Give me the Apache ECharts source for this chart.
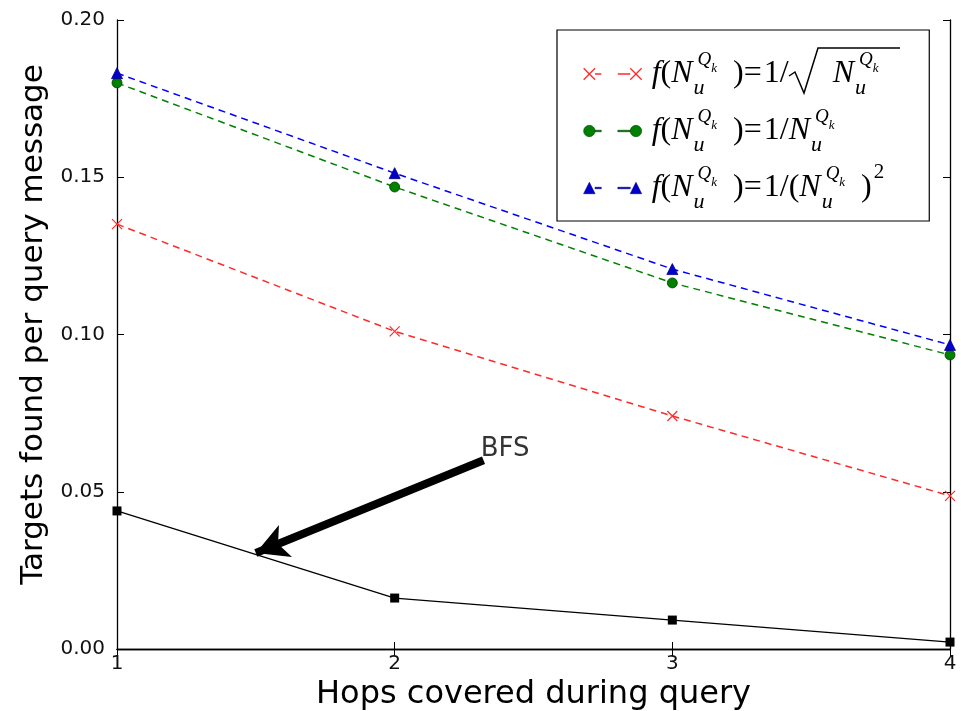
<!DOCTYPE html>
<html>
<head>
<meta charset="utf-8">
<script src="https://cdn.jsdelivr.net/npm/echarts@6/dist/echarts.min.js"></script>
<style>html,body{margin:0;padding:0;background:#fff;}#c{width:961px;height:711px;}</style>
</head>
<body>
<div id="c"></div>
<script>
const hops = [1, 2, 3, 4];
const sqrtVals = [0.1351, 0.1010, 0.0741, 0.0487];
const invVals = [0.1800, 0.1469, 0.1164, 0.0935];
const invSqVals = [0.1831, 0.1513, 0.1208, 0.0967];
const bfsVals = [0.0439, 0.0162, 0.0092, 0.0022];
const seriesNames = ['sqrt', 'inv', 'invsq'];
const legendTexts = {
  sqrt: '{f|f}{t|(}{N|N}{sub|u}{sup|Q}{k|k}{t|  )}{eq|=}{t|1/}{rad| }{N|N}{sub|u}{sup|Q}{k|k}',
  inv: '{f|f}{t|(}{N|N}{sub|u}{sup|Q}{k|k}{t|  )}{eq|=}{t|1/}{N|N}{sub|u}{sup|Q}{k|k}',
  invsq: '{f|f}{t|(}{N|N}{sub|u}{sup|Q}{k|k}{t|  )}{eq|=}{t|1/(}{N|N}{sub|u}{sup|Q}{k|k}{t|  )}{two|2}'
};
const bfsLabel = 'BFS';
const bfsLabelPos = [2.31, 0.0636];
const arrowFrom = [2.32, 0.0600];
const arrowTo = [1.50, 0.0305];

const chart = echarts.init(document.getElementById('c'));
const pair = (vals) => hops.map((h, i) => [h, vals[i]]);
const axisLine = { show: true, lineStyle: { color: '#000', width: 1.3 } };
const tick = { show: true, inside: true, length: 7, lineStyle: { color: '#000', width: 1 } };
const mathFont = 'Liberation Serif';
const LH = 56;
const rich = {
  f: { fontFamily: mathFont, fontStyle: 'italic', fontSize: 32, lineHeight: LH, verticalAlign: 'middle', color: '#000' },
  t: { fontFamily: mathFont, fontSize: 32, lineHeight: LH, verticalAlign: 'middle', color: '#000' },
  eq: { fontFamily: mathFont, fontSize: 32, lineHeight: LH, verticalAlign: 'middle', padding: [0, 2, 0, 0], color: '#000' },
  rad: { fontFamily: mathFont, fontSize: 32, lineHeight: LH, verticalAlign: 'middle', width: 44, color: '#000' },
  N: { fontFamily: mathFont, fontStyle: 'italic', fontSize: 32, lineHeight: LH, verticalAlign: 'middle', color: '#000' },
  sub: { fontFamily: mathFont, fontStyle: 'italic', fontSize: 22, lineHeight: LH, verticalAlign: 'bottom', width: 0, padding: [0, 0, 3, 1], color: '#000' },
  sup: { fontFamily: mathFont, fontStyle: 'italic', fontSize: 19, lineHeight: LH, verticalAlign: 'top', padding: [4, 0, 0, 4], color: '#000' },
  k: { fontFamily: mathFont, fontStyle: 'italic', fontSize: 13, lineHeight: LH, verticalAlign: 'top', padding: [16, 0, 0, 0], color: '#000' },
  two: { fontFamily: mathFont, fontSize: 21, lineHeight: LH, verticalAlign: 'top', padding: [2, 0, 0, 2], color: '#000' }
};
const iconCross = 'path://M0,1L11,12M11,1L0,12M45,1L56,12M56,1L45,12M11,6.5L17,6.5M33,6.5L45,6.5';
const iconCircle = 'path://M0,6.5A5.5,5.5 0 1,0 11,6.5A5.5,5.5 0 1,0 0,6.5ZM11,5.8h6v1.4h-6ZM33,5.8h12v1.4h-12ZM45,6.5A5.5,5.5 0 1,0 56,6.5A5.5,5.5 0 1,0 45,6.5Z';
const iconTri = 'path://M0,12L5.5,1L11,12ZM11,5.8h6v1.4h-6ZM33,5.8h12v1.4h-12ZM45,12L50.5,1L56,12Z';

chart.setOption({
  animation: false,
  backgroundColor: '#fff',
  grid: { left: 117, right: 11, top: 20, bottom: 62, outerBoundsMode: 'none', containLabel: false },
  legend: {
    data: [
      { name: 'sqrt', icon: iconCross, itemStyle: { color: 'rgba(0,0,0,0)', borderColor: '#ff2a2a', borderWidth: 1.3 } },
      { name: 'inv', icon: iconCircle, itemStyle: { color: '#008000', borderColor: '#004000', borderWidth: 0.6 } },
      { name: 'invsq', icon: iconTri, itemStyle: { color: '#0000cc', borderColor: '#000080', borderWidth: 0.6 } }
    ],
    orient: 'vertical',
    left: 557, top: 30,
    padding: [16, 45, 5, 26],
    itemGap: 1,
    itemWidth: 58, itemHeight: 12,
    borderColor: '#000', borderWidth: 1.2, borderRadius: 0,
    backgroundColor: '#fff',
    formatter: (n) => legendTexts[n],
    textStyle: { rich: rich, padding: [0, 0, 0, 5] }
  },
  graphic: [
    { type: 'polyline', silent: true, z: 100,
      shape: { points: [[789, 76], [795, 72], [804, 93], [818, 48], [900, 48]] },
      style: { stroke: '#000', lineWidth: 1.5, fill: null } }
  ],
  xAxis: [
    { type: 'value', min: 1, max: 4, interval: 1, axisLine: axisLine, axisTick: tick, splitLine: { show: false },
      axisLabel: { color: '#111', fontSize: 20, fontFamily: 'DejaVu Sans', margin: 5 },
      name: 'Hops covered during query', nameLocation: 'middle', nameGap: 27,
      nameTextStyle: { fontSize: 32, fontFamily: 'DejaVu Sans', color: '#000' } },
    { type: 'value', position: 'top', min: 1, max: 4, interval: 1, axisLine: axisLine, axisTick: tick,
      axisLabel: { show: false }, splitLine: { show: false } }
  ],
  yAxis: [
    { type: 'value', min: 0, max: 0.2, interval: 0.05, axisLine: axisLine, axisTick: tick, splitLine: { show: false },
      axisLabel: { color: '#111', fontSize: 20, fontFamily: 'DejaVu Sans', margin: 12, formatter: (v) => v.toFixed(2) },
      name: 'Targets found per query message', nameLocation: 'middle', nameGap: 62,
      nameTextStyle: { fontSize: 31, fontFamily: 'DejaVu Sans', color: '#000', padding: [0, 0, 0, 20] } },
    { type: 'value', position: 'right', min: 0, max: 0.2, interval: 0.05, axisLine: axisLine, axisTick: tick,
      axisLabel: { show: false }, splitLine: { show: false } }
  ],
  series: [
    { name: 'sqrt', type: 'line', data: pair(sqrtVals), symbol: 'path://M0,0L10,10M10,0L0,10', symbolSize: 10,
      lineStyle: { color: '#ff2a2a', width: 1.5, type: [7, 5] },
      itemStyle: { color: '#ff2a2a', borderColor: '#ff2a2a', borderWidth: 1.2 }, z: 3 },
    { name: 'inv', type: 'line', data: pair(invVals), symbol: 'circle', symbolSize: 10,
      lineStyle: { color: '#008000', width: 1.5, type: [7, 5] },
      itemStyle: { color: '#008000', borderColor: '#004000', borderWidth: 0.8 }, z: 3 },
    { name: 'invsq', type: 'line', data: pair(invSqVals), symbol: 'triangle', symbolSize: 11,
      lineStyle: { color: '#0000ff', width: 1.5, type: [7, 5] },
      itemStyle: { color: '#0000cc', borderColor: '#000080', borderWidth: 0.8 }, z: 3 },
    { name: 'BFS', type: 'line', data: pair(bfsVals), symbol: 'rect', symbolSize: 9,
      lineStyle: { color: '#000', width: 1.3 }, itemStyle: { color: '#000' }, z: 3 },
    { name: 'annot', type: 'scatter', data: [bfsLabelPos], symbolSize: 0, silent: true,
      label: { show: true, position: 'right', distance: 0, formatter: bfsLabel, fontSize: 26, fontFamily: 'DejaVu Sans', color: '#000' },
      markLine: { silent: true, symbol: ['none', 'arrow'], symbolSize: [26, 32], label: { show: false },
        lineStyle: { color: '#000', width: 8, type: 'solid' },
        data: [[{ coord: arrowFrom }, { coord: arrowTo }]] } }
  ]
});
</script>
</body>
</html>
